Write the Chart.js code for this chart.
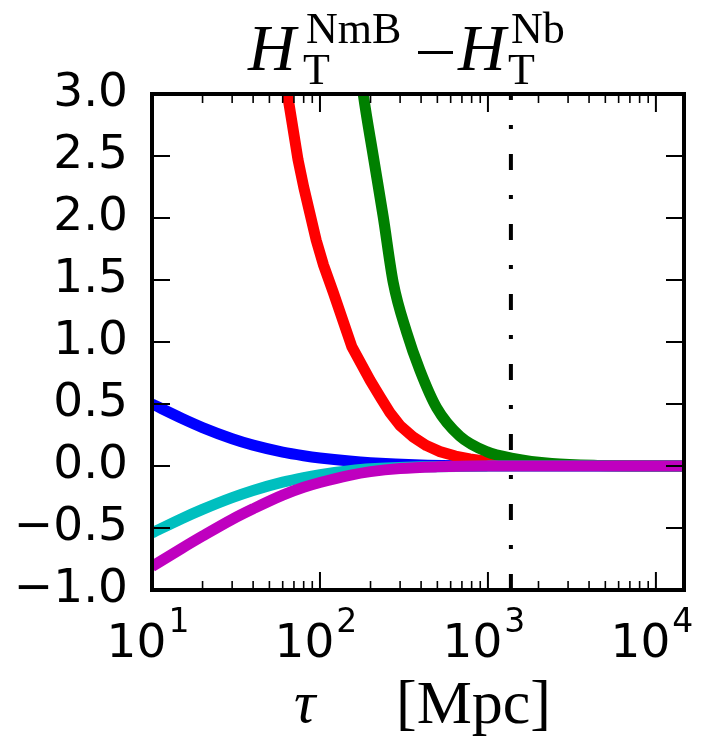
<!DOCTYPE html>
<html>
<head>
<meta charset="utf-8">
<script src="https://cdn.jsdelivr.net/npm/chart.js@4.4.1/dist/chart.umd.min.js"></script>
<style>
  html, body { margin: 0; padding: 0; background: #fff; overflow: hidden; }
  canvas { display: block; }
</style>
</head>
<body>
<canvas id="c" width="706" height="755"></canvas>
<script>
// Difference H_T^NmB - H_T^Nb as a function of tau [Mpc]
const tauBlue    = [10, 15, 20, 30, 40, 60, 80, 100, 150, 200, 400, 1000, 14700];
const valBlue    = [0.50, 0.385, 0.31, 0.22, 0.168, 0.112, 0.083, 0.065, 0.04, 0.027, 0.009, 0.002, 0.0];

const tauRed     = [60, 64, 68, 74, 80, 87, 95, 105, 120, 155, 199, 230, 261, 300, 358, 430, 518, 640, 781, 1000, 1300, 2500, 14700];
const valRed     = [3.23, 3.0, 2.78, 2.47, 2.25, 2.04, 1.82, 1.62, 1.40, 0.96, 0.69, 0.55, 0.43, 0.325, 0.235, 0.165, 0.116, 0.08, 0.057, 0.037, 0.024, 0.006, 0.0];

const tauGreen   = [170, 181, 207.6, 238, 273, 328, 394, 495, 681, 982, 1409, 2400, 4500, 14700];
const valGreen   = [3.3, 3.0, 2.5, 2.01, 1.48, 1.08, 0.77, 0.47, 0.24, 0.116, 0.062, 0.02, 0.005, 0.0];

const tauCyan    = [10, 15, 20, 30, 40, 60, 80, 100, 150, 200, 400, 1000, 14700];
const valCyan    = [-0.54, -0.425, -0.35, -0.255, -0.197, -0.13, -0.093, -0.07, -0.038, -0.022, -0.006, -0.001, 0.0];

const tauMagenta = [10, 15, 20, 30, 40, 60, 80, 100, 150, 200, 300, 500, 1000, 14700];
const valMagenta = [-0.81, -0.665, -0.565, -0.43, -0.345, -0.235, -0.172, -0.133, -0.075, -0.045, -0.02, -0.007, -0.001, 0.0];

// vertical reference line
const tauMark = 1370;

// axes
const xMin = 10, xMax = 14700;
const yMin = -1, yMax = 3;
const yTicks = [-1.0, -0.5, 0.0, 0.5, 1.0, 1.5, 2.0, 2.5, 3.0];
const xTickExponents = [1, 2, 3, 4];

function pts(xs, ys) { return xs.map((t, i) => ({ x: t, y: ys[i] })); }

function curve(xs, ys, color, order, smooth) {
  return {
    data: pts(xs, ys),
    borderColor: color,
    borderWidth: 11,
    borderJoinStyle: 'round',
    pointRadius: 0,
    fill: false,
    cubicInterpolationMode: smooth ? 'monotone' : 'default',
    tension: 0,
    clip: 0,
    order: order
  };
}

const sansFont = "'DejaVu Sans', 'Liberation Sans', sans-serif";
const serifFont = "'Liberation Serif', 'DejaVu Serif', serif";

const decor = {
  id: 'decor',
  beforeDraw(chart) {
    const ctx = chart.ctx;
    ctx.save();
    ctx.fillStyle = '#fff';
    ctx.fillRect(0, 0, chart.width, chart.height);
    ctx.restore();
  },
  afterDatasetsDraw(chart) {
    const { ctx, chartArea: a, scales: { x, y } } = chart;
    ctx.save();
    ctx.strokeStyle = '#000';
    const seg = (x1, y1, x2, y2) => { ctx.beginPath(); ctx.moveTo(x1, y1); ctx.lineTo(x2, y2); ctx.stroke(); };

    // y ticks, inward on left and right
    ctx.lineWidth = 2;
    for (const v of yTicks) {
      const py = y.getPixelForValue(v);
      seg(a.left, py, a.left + 18, py);
      seg(a.right - 18, py, a.right, py);
    }
    // x ticks (log decades with minors), inward on bottom and top
    for (let k = 1; k <= 4; k++) {
      for (let m = 1; m <= 9; m++) {
        const v = m * Math.pow(10, k);
        if (v < xMin || v > xMax) continue;
        const px = x.getPixelForValue(v);
        const len = m === 1 ? 18 : 9;
        ctx.lineWidth = m === 1 ? 2 : 1.6;
        seg(px, a.bottom, px, a.bottom - len);
        seg(px, a.top, px, a.top + len);
      }
    }
    // frame
    ctx.lineWidth = 4;
    ctx.strokeRect(a.left, a.top, a.right - a.left, a.bottom - a.top);

    // x tick labels 10^k
    ctx.fillStyle = '#000';
    ctx.textBaseline = 'alphabetic';
    ctx.textAlign = 'left';
    for (const e of xTickExponents) {
      const px = x.getPixelForValue(Math.pow(10, e));
      ctx.font = '47px ' + sansFont;
      const wb = ctx.measureText('10').width;
      ctx.font = '33px ' + sansFont;
      const we = ctx.measureText(String(e)).width;
      const x0 = px - (wb + we + 2) / 2 - 4;
      ctx.font = '47px ' + sansFont;
      ctx.fillText('10', x0, 657);
      ctx.font = '33px ' + sansFont;
      ctx.fillText(String(e), x0 + wb + 2, 632);
    }
    ctx.restore();
  },
  afterDraw(chart) {
    const ctx = chart.ctx;
    ctx.save();
    ctx.fillStyle = '#000';
    ctx.textBaseline = 'alphabetic';
    ctx.textAlign = 'left';
    // title: H_T^{NmB} - H_T^{Nb}
    ctx.font = 'italic 66px ' + serifFont;
    ctx.fillText('H', 248, 70);
    ctx.font = '44px ' + serifFont;
    ctx.fillText('NmB', 306, 43);
    ctx.fillText('T', 303, 84);
    ctx.fillRect(418, 51, 35, 3);
    ctx.font = 'italic 66px ' + serifFont;
    ctx.fillText('H', 458, 70);
    ctx.font = '44px ' + serifFont;
    ctx.fillText('Nb', 511, 43);
    ctx.fillText('T', 508, 84);
    // x axis label
    ctx.font = 'italic 60px ' + serifFont;
    ctx.fillText('\u03c4', 294, 722);
    ctx.font = '62px ' + serifFont;
    ctx.fillText('[Mpc]', 396, 723);
    ctx.restore();
  }
};

new Chart(document.getElementById('c'), {
  type: 'line',
  data: {
    datasets: [
      {
        data: [{ x: tauMark, y: yMin }, { x: tauMark, y: yMax }],
        borderColor: '#000',
        borderWidth: 4,
        borderDash: [16, 25, 4, 25],
        pointRadius: 0,
        fill: false,
        clip: 0,
        order: 0
      },
      curve(tauMagenta, valMagenta, '#bf00bf', 1, true),
      curve(tauCyan, valCyan, '#00bfbf', 2, true),
      curve(tauGreen, valGreen, '#008000', 3, true),
      curve(tauRed, valRed, '#ff0000', 4, false),
      curve(tauBlue, valBlue, '#0000ff', 5, true)
    ]
  },
  options: {
    responsive: false,
    animation: false,
    devicePixelRatio: 1,
    layout: { padding: { top: 94, right: 22, left: 0, bottom: 0 } },
    plugins: { legend: { display: false }, tooltip: { enabled: false } },
    scales: {
      x: {
        type: 'logarithmic',
        min: xMin,
        max: xMax,
        grid: { display: false },
        border: { display: false },
        ticks: { display: false },
        afterFit: s => { s.height = 165; }
      },
      y: {
        type: 'linear',
        min: yMin,
        max: yMax,
        grid: { display: false },
        border: { display: false },
        afterBuildTicks: s => { s.ticks = yTicks.map(v => ({ value: v })); },
        ticks: {
          color: '#000',
          padding: 16,
          font: { family: sansFont, size: 47 },
          callback: v => v.toFixed(1).replace('-', '\u2212')
        },
        afterFit: s => { s.width = 152; }
      }
    }
  },
  plugins: [decor]
});
</script>
</body>
</html>
